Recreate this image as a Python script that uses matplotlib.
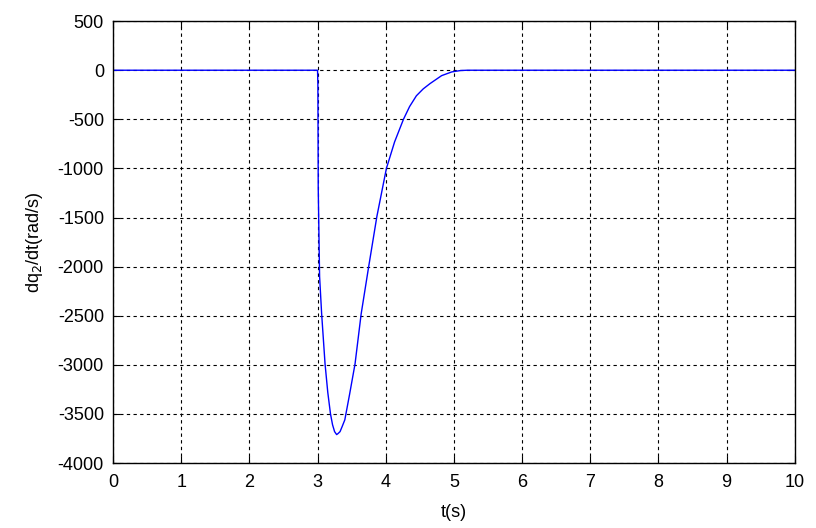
import numpy as np
import matplotlib.pyplot as plt

plt.rcParams['font.family'] = ['Liberation Sans', 'DejaVu Sans']
plt.rcParams['axes.unicode_minus'] = False

# values
t = [0.0, 3.0, 3.005, 3.01, 3.03, 3.06, 3.11, 3.15, 3.19, 3.22, 3.25, 3.28, 3.30,
     3.33, 3.36, 3.40, 3.47, 3.55, 3.64, 3.75, 3.87, 4.01, 4.13, 4.26, 4.35,
     4.45, 4.55, 4.65, 4.82, 4.97, 5.10, 5.20, 10.0]
dq2 = [0, 0, -150, -1200, -2100, -2480, -2990, -3280, -3500, -3610, -3680, -3710, -3700,
       -3680, -3630, -3560, -3300, -2990, -2480, -2000, -1490, -1000, -730, -500, -370,
       -260, -190, -136, -55, -17, -3, 0, 0]

xticks = np.arange(0, 11, 1)
yticks = np.arange(-4000, 501, 500)

fig = plt.figure(figsize=(8.16, 5.28), dpi=100)
ax = fig.add_axes([0.1385, 0.123, 0.8355, 0.837])

ax.plot(t, dq2, color='#0000ff', lw=1.0)

ax.set_xlim(0, 10)
ax.set_ylim(-4000, 500)
ax.set_xticks(xticks)
ax.set_yticks(yticks)
ax.grid(True, color='black', linestyle=(0, (3, 3)), linewidth=0.8)
ax.tick_params(direction='in', top=True, right=True, labelsize=13, length=5)
ax.tick_params(axis='x', pad=8)
ax.tick_params(axis='y', pad=6.5)
for s in ax.spines.values():
    s.set_linewidth(1.0)

ax.set_xlabel('t(s)', fontsize=13, labelpad=9)
ax.set_ylabel('dq$_2$/dt(rad/s)', fontsize=13, labelpad=9)

fig.savefig('out.png', dpi=100)
